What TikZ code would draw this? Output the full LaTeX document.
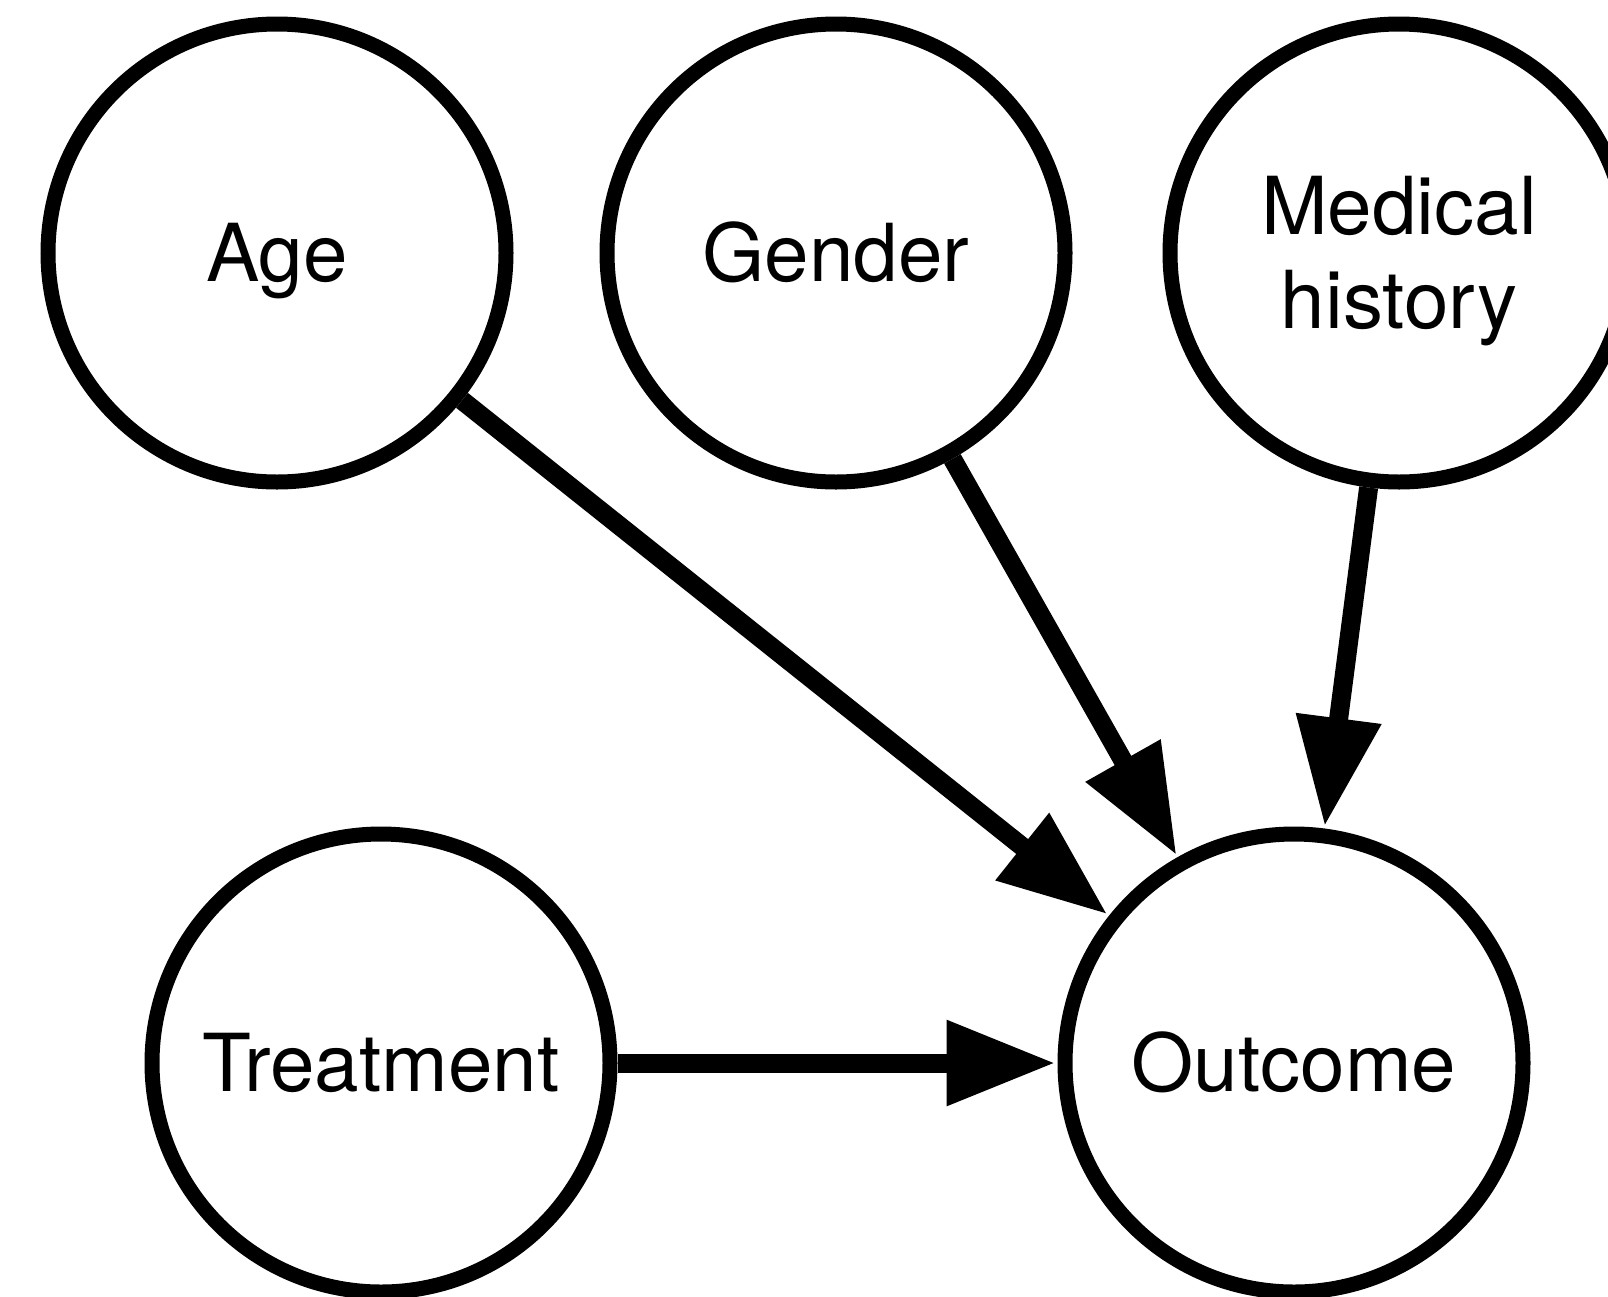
\documentclass[tikz,border=0pt]{standalone}
\usepackage{fontspec}
\setmainfont{TeX Gyre Heros}
\usetikzlibrary{arrows.meta}
\begin{document}
\begin{tikzpicture}[x=1pt,y=-1pt,
  var/.style={circle,draw=black,line width=15pt,minimum size=458pt,inner sep=0pt,
    align=center,font=\fontsize{80}{92}\selectfont,text height=57pt,text depth=0pt},
  edge/.style={line width=19pt,-{Triangle[length=109pt,width=81pt]},shorten >=2pt}]
\useasboundingbox (0,0) rectangle (1608,1296);
\node[var] (age) at (277,253) {Age};
\node[var] (gender) at (836,253) {Gender};
\node[var,text height=151pt] (med) at (1399,253) {Medical\\[2pt]history};
\node[var] (treat) at (381,1063) {Treatment};
\node[var] (out) at (1294,1063) {Outcome};
\draw[edge] (age) -- (out);
\draw[edge] (gender) -- (out);
\draw[edge] (med) -- (out);
\draw[edge] (treat) -- (out);
\end{tikzpicture}
\end{document}
